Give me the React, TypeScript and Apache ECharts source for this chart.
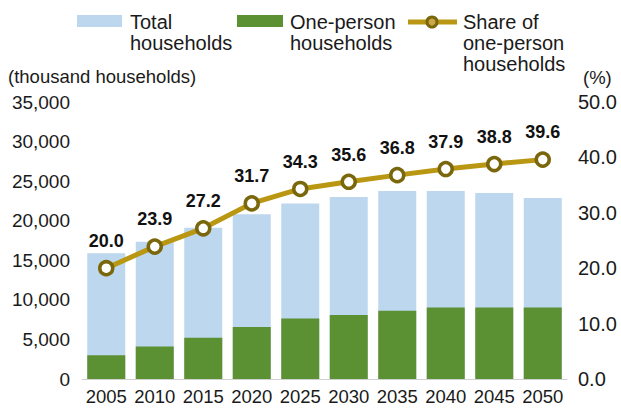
import React, { useEffect, useRef } from "react";
import * as echarts from "echarts";

const years = ["2005", "2010", "2015", "2020", "2025", "2030", "2035", "2040", "2045", "2050"];
const totalHouseholds = [15890, 17340, 19100, 20820, 22160, 23000, 23750, 23750, 23500, 22870];
const onePersonHouseholds = [3000, 4120, 5200, 6560, 7650, 8100, 8620, 9030, 9030, 9030];
const sharePercent = [20.0, 23.9, 27.2, 31.7, 34.3, 35.6, 36.8, 37.9, 38.8, 39.6];
const legendNames = ["Total\nhouseholds", "One-person\nhouseholds", "Share of\none-person\nhouseholds"];
const leftUnit = "(thousand households)";
const rightUnit = "(%)";

const BLUE = "#BDD7EE";
const GREEN = "#5B9033";
const GOLD = "#BA9712";
const OLIVE = "#7A670B";
const FONT = "'Liberation Sans', Arial, sans-serif";
const TXT = "#1a1a1a";

export default function App() {
  const ref = useRef<HTMLDivElement>(null);
  useEffect(() => {
    if (!ref.current) return;
    const chart = echarts.init(ref.current, undefined, { renderer: "svg" });
    const legendText = (text: string, x: number) => ({
      type: "text",
      x,
      y: 11,
      style: {
        text,
        fontSize: 20,
        fontFamily: FONT,
        fill: TXT,
        lineHeight: 21,
        verticalAlign: "top",
        align: "left",
      },
    });
    chart.setOption({
      animation: false,
      backgroundColor: "#fff",
      textStyle: { fontFamily: FONT },
      grid: { left: 82, right: 54, top: 102, bottom: 33, containLabel: false },
      xAxis: {
        type: "category",
        data: years,
        axisLine: { show: true, lineStyle: { color: "#d0d0d0", width: 1 } },
        axisTick: { show: false },
        axisLabel: { fontSize: 18.5, color: TXT, margin: 8, fontFamily: FONT, interval: 0 },
      },
      yAxis: [
        {
          type: "value",
          min: 0,
          max: 35000,
          interval: 5000,
          splitLine: { show: false },
          axisLine: { show: false },
          axisTick: { show: false },
          axisLabel: {
            fontSize: 19,
            color: TXT,
            margin: 12,
            fontFamily: FONT,
            formatter: (v: number) => v.toLocaleString("en-US"),
          },
        },
        {
          type: "value",
          min: 0,
          max: 50,
          interval: 10,
          position: "right",
          splitLine: { show: false },
          axisLine: { show: false },
          axisTick: { show: false },
          axisLabel: {
            fontSize: 20,
            color: TXT,
            margin: 11,
            fontFamily: FONT,
            formatter: (v: number) => v.toFixed(1),
          },
        },
      ],
      series: [
        {
          name: "Total households",
          type: "bar",
          data: totalHouseholds,
          barWidth: 38,
          barGap: "-100%",
          itemStyle: { color: BLUE },
          yAxisIndex: 0,
        },
        {
          name: "One-person households",
          type: "bar",
          data: onePersonHouseholds,
          barWidth: 38,
          barGap: "-100%",
          itemStyle: { color: GREEN },
          yAxisIndex: 0,
        },
        {
          name: "Share of one-person households",
          type: "line",
          yAxisIndex: 1,
          data: sharePercent,
          symbol: "circle",
          symbolSize: 13,
          lineStyle: { color: GOLD, width: 5 },
          itemStyle: { color: "#fff", borderColor: OLIVE, borderWidth: 3.5 },
          label: {
            show: true,
            position: "top",
            distance: 10,
            fontSize: 18,
            fontWeight: "bold",
            color: "#111",
            fontFamily: FONT,
            formatter: (p: any) => Number(p.value).toFixed(1),
          },
          z: 5,
        },
      ],
      graphic: [
        { type: "rect", shape: { x: 77, y: 15, width: 45, height: 12 }, style: { fill: BLUE } },
        legendText(legendNames[0], 130),
        { type: "rect", shape: { x: 237, y: 15, width: 46, height: 12 }, style: { fill: GREEN } },
        legendText(legendNames[1], 290),
        { type: "line", shape: { x1: 408, y1: 22, x2: 457, y2: 22 }, style: { stroke: GOLD, lineWidth: 5 } },
        { type: "circle", shape: { cx: 432, cy: 22, r: 5 }, style: { fill: "#c8a84a", stroke: OLIVE, lineWidth: 3 } },
        legendText(legendNames[2], 463),
        {
          type: "text",
          x: 8,
          y: 76,
          style: { text: leftUnit, fontSize: 18.5, fontFamily: FONT, fill: TXT, verticalAlign: "middle", align: "left" },
        },
        {
          type: "text",
          x: 583,
          y: 77,
          style: { text: rightUnit, fontSize: 18.5, fontFamily: FONT, fill: TXT, verticalAlign: "middle", align: "left" },
        },
      ],
    });
    return () => chart.dispose();
  }, []);
  return <div ref={ref} style={{ position: "fixed", left: 0, top: 0, width: 621, height: 412 }} />;
}
